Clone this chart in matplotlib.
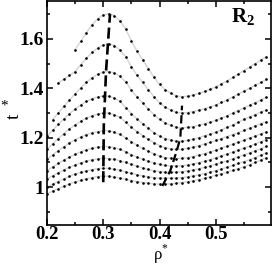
import matplotlib
matplotlib.use('Agg')
import matplotlib.pyplot as plt
import numpy as np
from matplotlib.ticker import MultipleLocator, FixedLocator, FixedFormatter

plt.rcParams['font.family'] = ['Liberation Serif', 'DejaVu Serif']
plt.rcParams['mathtext.fontset'] = 'custom'
plt.rcParams['mathtext.rm'] = 'Liberation Serif'
plt.rcParams['mathtext.bf'] = 'Liberation Serif:bold'
plt.rcParams['lines.scale_dashes'] = False

# density grid shared by all isotherms
rho = [0.20, 0.21, 0.22, 0.23, 0.24, 0.25, 0.26, 0.27, 0.28, 0.29,
       0.30, 0.31, 0.32, 0.33, 0.34, 0.35, 0.36, 0.37, 0.38, 0.39,
       0.40, 0.41, 0.42, 0.43, 0.44, 0.45, 0.46, 0.47, 0.48, 0.49,
       0.50, 0.51, 0.52, 0.53, 0.54, 0.55, 0.56, 0.57, 0.58, 0.59]
nan = np.nan

# temperature t* along each isotherm (top to bottom)
t1 = [nan, nan, nan, nan, nan, 1.557, 1.590, 1.625, 1.657, 1.682,
      1.697, 1.702, 1.694, 1.672, 1.640, 1.592, 1.550, 1.515, 1.480, 1.445,
      1.416, 1.395, 1.380, 1.370, 1.366, 1.368, 1.373, 1.380, 1.388, 1.396,
      1.406, 1.418, 1.430, 1.444, 1.458, 1.472, 1.486, 1.500, 1.514, 1.528]
t2 = [nan, nan, 1.422, 1.437, 1.452, 1.468, 1.496, 1.522, 1.545, 1.563,
      1.576, 1.580, 1.573, 1.555, 1.528, 1.488, 1.453, 1.424, 1.395, 1.366,
      1.342, 1.324, 1.312, 1.303, 1.300, 1.302, 1.306, 1.312, 1.318, 1.325,
      1.333, 1.343, 1.353, 1.365, 1.377, 1.389, 1.400, 1.412, 1.424, 1.436]
t3 = [nan, 1.273, 1.300, 1.327, 1.353, 1.378, 1.402, 1.424, 1.443, 1.457,
      1.466, 1.468, 1.463, 1.448, 1.426, 1.393, 1.365, 1.341, 1.317, 1.294,
      1.274, 1.260, 1.250, 1.243, 1.240, 1.242, 1.245, 1.251, 1.257, 1.263,
      1.270, 1.280, 1.289, 1.300, 1.310, 1.321, 1.332, 1.342, 1.353, 1.364]
t4 = [1.206, 1.230, 1.254, 1.276, 1.297, 1.316, 1.333, 1.347, 1.358, 1.365,
      1.369, 1.368, 1.360, 1.347, 1.321, 1.298, 1.276, 1.257, 1.239, 1.221,
      1.207, 1.197, 1.191, 1.187, 1.187, 1.189, 1.194, 1.201, 1.208, 1.215,
      1.223, 1.232, 1.242, 1.252, 1.263, 1.274, 1.284, 1.294, 1.304, 1.313]
t5 = [1.153, 1.176, 1.197, 1.217, 1.236, 1.252, 1.267, 1.279, 1.289, 1.296,
      1.300, 1.300, 1.293, 1.282, 1.262, 1.243, 1.225, 1.209, 1.194, 1.180,
      1.168, 1.160, 1.155, 1.153, 1.154, 1.157, 1.162, 1.168, 1.175, 1.182,
      1.189, 1.197, 1.205, 1.213, 1.221, 1.230, 1.239, 1.248, 1.257, 1.265]
t6 = [1.113, 1.131, 1.148, 1.164, 1.179, 1.192, 1.203, 1.213, 1.220, 1.225,
      1.228, 1.228, 1.223, 1.214, 1.199, 1.184, 1.170, 1.157, 1.146, 1.135,
      1.126, 1.120, 1.117, 1.116, 1.117, 1.120, 1.124, 1.130, 1.136, 1.143,
      1.150, 1.158, 1.166, 1.174, 1.182, 1.190, 1.199, 1.207, 1.216, 1.225]
t7 = [1.066, 1.082, 1.096, 1.110, 1.122, 1.133, 1.143, 1.151, 1.157, 1.162,
      1.164, 1.164, 1.160, 1.153, 1.143, 1.132, 1.122, 1.113, 1.105, 1.098,
      1.092, 1.088, 1.086, 1.086, 1.087, 1.090, 1.094, 1.099, 1.105, 1.112,
      1.119, 1.127, 1.134, 1.142, 1.150, 1.158, 1.166, 1.175, 1.184, 1.193]
t8 = [1.033, 1.046, 1.058, 1.070, 1.080, 1.090, 1.098, 1.105, 1.111, 1.115,
      1.117, 1.116, 1.113, 1.107, 1.100, 1.092, 1.085, 1.078, 1.072, 1.067,
      1.063, 1.061, 1.060, 1.061, 1.063, 1.066, 1.070, 1.075, 1.080, 1.086,
      1.093, 1.100, 1.107, 1.115, 1.123, 1.131, 1.139, 1.148, 1.156, 1.165]
t9 = [1.000, 1.012, 1.023, 1.034, 1.044, 1.053, 1.060, 1.066, 1.071, 1.075,
      1.077, 1.076, 1.073, 1.068, 1.062, 1.056, 1.051, 1.046, 1.042, 1.039,
      1.037, 1.036, 1.036, 1.037, 1.039, 1.042, 1.046, 1.050, 1.055, 1.061,
      1.067, 1.074, 1.081, 1.088, 1.096, 1.103, 1.111, 1.120, 1.130, 1.140]
t10 = [0.973, 0.984, 0.994, 1.004, 1.013, 1.021, 1.028, 1.034, 1.039, 1.043,
       1.045, 1.044, 1.041, 1.037, 1.032, 1.027, 1.023, 1.019, 1.016, 1.014,
       1.013, 1.013, 1.014, 1.016, 1.019, 1.022, 1.026, 1.031, 1.036, 1.042,
       1.048, 1.054, 1.061, 1.068, 1.075, 1.083, 1.091, 1.100, 1.110, 1.120]
isotherms = [t1, t2, t3, t4, t5, t6, t7, t8, t9, t10]

# loci of maxima and minima
max_rho = [0.300, 0.301, 0.305, 0.312]
max_t = [1.02, 1.25, 1.47, 1.70]
min_rho = [0.405, 0.419, 0.431, 0.437, 0.440]
min_t = [1.005, 1.066, 1.150, 1.200, 1.330]

fig = plt.figure(figsize=(2.73, 2.66), dpi=100)
ax = fig.add_axes([0.172, 0.154, 0.8205, 0.842])

for t in isotherms:
    ax.plot(rho, t, color='#d4d4d4', lw=1.0, zorder=1)
    ax.plot(rho, t, ls='none', marker='o', ms=1.9, mfc='black', mec='black', mew=0, zorder=2)

ax.plot(max_rho, max_t, color='black', lw=1.9, dashes=(8, 3.5), zorder=3)
ax.plot(min_rho, min_t, color='black', lw=1.6, dashes=(6, 3.5), zorder=3)

ax.set_xlim(0.2, 0.598)
ax.set_ylim(0.847, 1.753)

ax.xaxis.set_major_locator(FixedLocator([0.2, 0.3, 0.4, 0.5]))
ax.xaxis.set_major_formatter(FixedFormatter(['0.2', '0.3', '0.4', '0.5']))
ax.xaxis.set_minor_locator(MultipleLocator(0.05))
ax.yaxis.set_major_locator(FixedLocator([1.0, 1.2, 1.4, 1.6]))
ax.yaxis.set_major_formatter(FixedFormatter(['1', '1.2', '1.4', '1.6']))
ax.yaxis.set_minor_locator(MultipleLocator(0.1))

ax.tick_params(which='both', direction='in', top=True, right=True, width=1.1)
ax.tick_params(which='major', length=4.5, pad=2)
ax.tick_params(axis='x', which='major', pad=1)
ax.tick_params(which='minor', length=2.5)
for lab in ax.get_yticklabels():
    lab.set_fontweight('bold')
    lab.set_fontsize(14)
for lab in ax.get_xticklabels():
    lab.set_fontweight('bold')
    lab.set_fontsize(13.5)
for sp in ax.spines.values():
    sp.set_linewidth(1.2)

ax.text(0.875, 0.93, r'$\mathbf{R_2}$', transform=ax.transAxes, fontsize=15,
        ha='center', va='center')

fig.text(161 / 273, 0.0, r'ρ$^{*}$', fontsize=12, ha='center', va='bottom')
fig.text(14 / 273, 1 - 116 / 266, 't', fontsize=14, rotation=90, ha='center', va='center')
fig.text(4 / 273, 1 - 106 / 266, '*', fontsize=11, ha='center', va='center')

fig.savefig('out.png', dpi=100)
